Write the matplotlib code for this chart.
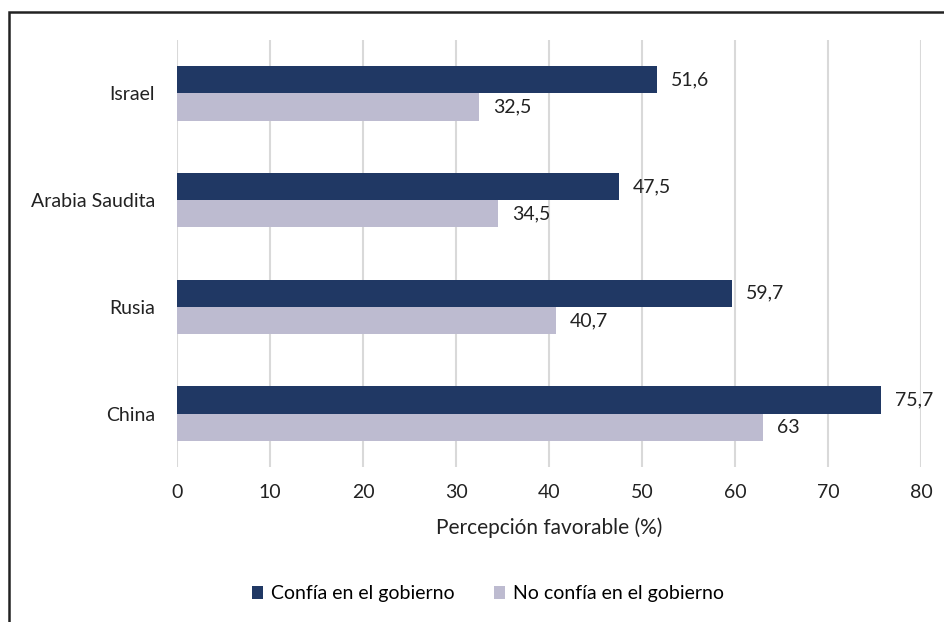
import matplotlib
matplotlib.use("Agg")
import matplotlib.pyplot as plt
from matplotlib.patches import Rectangle
import numpy as np

plt.rcParams['font.family'] = ['Lato', 'DejaVu Sans']

categories = ["Israel", "Arabia Saudita", "Rusia", "China"]
confia = [51.6, 47.5, 59.7, 75.7]
no_confia = [32.5, 34.5, 40.7, 63]
labels_confia = ["51,6", "47,5", "59,7", "75,7"]
labels_no = ["32,5", "34,5", "40,7", "63"]
series_names = ["Confía en el gobierno", "No confía en el gobierno"]
xticks = [0, 10, 20, 30, 40, 50, 60, 70, 80]

c_dark = "#203864"
c_light = "#bdbbd0"
fs = 14

fig = plt.figure(figsize=(9.44, 6.22), dpi=100)
ax = fig.add_axes([177/944, 1-467/622, (921-177)/944, (467-40)/622])

y = np.arange(len(categories))
h = 0.255
ax.barh(y - h/2, confia, height=h, color=c_dark, label=series_names[0], zorder=3)
ax.barh(y + h/2, no_confia, height=h, color=c_light, label=series_names[1], zorder=3)

for yi, v, t in zip(y, confia, labels_confia):
    ax.annotate(t, (v, yi - h/2), xytext=(10, 0), textcoords="offset points",
                va="center", ha="left", fontsize=fs, color="#222222")
for yi, v, t in zip(y, no_confia, labels_no):
    ax.annotate(t, (v, yi + h/2), xytext=(10, 0), textcoords="offset points",
                va="center", ha="left", fontsize=fs, color="#222222")

ax.set_xlim(0, 80)
ax.set_ylim(3.5, -0.5)
ax.set_xticks(xticks)
ax.set_xticklabels([str(t) for t in xticks], fontsize=fs, color="#222222")
ax.set_yticks(y)
ax.set_yticklabels(categories, fontsize=fs, color="#222222")
ax.tick_params(axis='x', length=0, pad=12)
ax.tick_params(axis='y', length=0, pad=16)
ax.grid(axis='x', color="#d9d9d9", linewidth=1.5, zorder=0)
ax.set_axisbelow(True)
for s in ax.spines.values():
    s.set_visible(False)
ax.set_xlabel("Percepción favorable (%)", fontsize=fs + 1, color="#222222", labelpad=12)

leg = fig.legend(loc="center", bbox_to_anchor=(488/944, 1-594/622), ncol=2, frameon=False,
                 fontsize=fs, handlelength=0.6, handleheight=0.6, columnspacing=2.0,
                 handletextpad=0.4)

fig.patches.append(Rectangle((9/944, -0.1), 1.2, 1 - 12/622 + 0.1, transform=fig.transFigure,
                             fill=False, edgecolor="#222222", linewidth=1.8))

fig.savefig("out.png", dpi=100)
